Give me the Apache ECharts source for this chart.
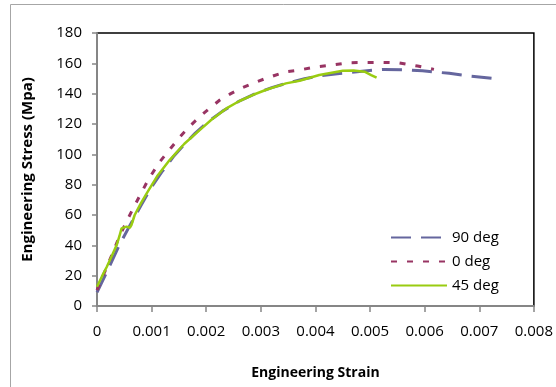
<!DOCTYPE html>
<html><head><meta charset="utf-8">
<script src="https://cdn.jsdelivr.net/npm/echarts@6/dist/echarts.min.js"></script>
<style>html,body{margin:0;padding:0;background:#fff}#c{width:556px;height:387px}</style>
</head><body><div id="c"></div>
<script>
const xTicks = [0, 0.001, 0.002, 0.003, 0.004, 0.005, 0.006, 0.007, 0.008];
const yTicks = [0, 20, 40, 60, 80, 100, 120, 140, 160, 180];
const seriesNames = ['90 deg', '0 deg', '45 deg'];

const strain90 = [0, 0.0002, 0.0004, 0.0006, 0.0008, 0.001, 0.0012, 0.0014, 0.0016, 0.0018, 0.002, 0.0023, 0.0026, 0.0029, 0.0032, 0.0035, 0.0038, 0.0041, 0.0044, 0.00462, 0.0049, 0.00526, 0.00572, 0.00596, 0.00645, 0.00678, 0.00733];
const stress90 = [9, 24, 39.5, 53, 66, 78.5, 89, 98.5, 106.5, 114, 120.5, 128.5, 135, 140, 144, 147.2, 149.8, 151.8, 153.2, 153.9, 155, 156, 155.6, 155.1, 153.4, 151.8, 149.8];

const strain0 = [0, 0.0001, 0.0002, 0.0003, 0.0004, 0.00054, 0.00065, 0.00079, 0.00095, 0.00115, 0.00135, 0.00152, 0.0017, 0.00188, 0.00205, 0.00225, 0.00245, 0.00265, 0.00285, 0.00305, 0.00325, 0.00346, 0.00371, 0.004, 0.00432, 0.00462, 0.00493, 0.0052, 0.0055, 0.00587, 0.00617];
const stress0 = [10.5, 19, 27.5, 36, 45, 55.6, 63.5, 73.2, 84, 95.1, 104, 111.6, 118.5, 124.8, 130, 135.8, 140, 143.7, 146.8, 149.5, 152, 154.5, 155.6, 157.6, 158.9, 160.4, 160.6, 160.6, 160.4, 158.2, 156];

const strain45 = [0, 0.00009, 0.00018, 0.00027, 0.00036, 0.00041, 0.00045, 0.00054, 0.0006, 0.00063, 0.00069, 0.0008, 0.00091, 0.0011, 0.00133, 0.0016, 0.00188, 0.0021, 0.00237, 0.0026, 0.00285, 0.0031, 0.00346, 0.00371, 0.00407, 0.0045, 0.0047, 0.0049, 0.00502, 0.00512];
const stress45 = [12.7, 19.5, 25.9, 33, 40.2, 46, 51.2, 52.3, 51.6, 53.4, 60, 67.5, 74.3, 85.5, 96.2, 107, 116, 123, 130.3, 135, 139.1, 142.6, 146.8, 148.5, 152.3, 155.1, 155.3, 154.5, 152.3, 150.5];

function pairs(xs, ys){ return xs.map((x,i)=>[x, ys[i]]); }
const FONT = 'Open Sans';
const chart = echarts.init(document.getElementById('c'), null, {renderer:'canvas'});
chart.setOption({
  animation: false,
  backgroundColor: '#fff',
  textStyle: {fontFamily: FONT},
  graphic: [{type:'rect', shape:{x:10.5, y:4.5, width:600, height:400}, style:{fill:'none', stroke:'#a6a6a6', lineWidth:1}, z:-10}],
  grid: {left: 97, right: 21, top: 33, bottom: 81, show: true, borderColor: '#000', borderWidth: 1.5, backgroundColor: 'transparent'},
  legend: {
    orient: 'vertical', left: 385, top: 225, itemWidth: 56, itemHeight: 14, itemGap: 9,
    data: seriesNames,
    itemStyle: {opacity: 0},
    textStyle: {fontFamily: FONT, fontSize: 15, color: '#000'}
  },
  xAxis: {
    type: 'value', min: xTicks[0], max: xTicks[xTicks.length-1], interval: 0.001,
    name: 'Engineering Strain', nameLocation: 'middle', nameGap: 60,
    nameTextStyle: {fontFamily: FONT, fontSize: 14, fontWeight: 'bold', color: '#000'},
    axisLine: {show: true, onZero: false, lineStyle: {color: '#868686', width: 2}},
    axisTick: {show: true, inside: false, length: 6, lineStyle: {color: '#868686', width: 1.5}},
    splitLine: {show: false},
    axisLabel: {margin: 18, fontSize: 15, color: '#000', fontFamily: FONT, formatter: v => (v === 0 ? '0' : v.toFixed(3))}
  },
  yAxis: {
    type: 'value', min: yTicks[0], max: yTicks[yTicks.length-1], interval: 20,
    name: 'Engineering Stress (Mpa)', nameLocation: 'middle', nameGap: 62, nameRotate: 90,
    nameTextStyle: {fontFamily: FONT, fontSize: 15, fontWeight: 'bold', color: '#000'},
    axisLine: {show: true, lineStyle: {color: '#868686', width: 2}},
    axisTick: {show: true, inside: false, length: 5, lineStyle: {color: '#868686', width: 1.5}},
    splitLine: {show: false},
    axisLabel: {margin: 15, fontSize: 15, color: '#000', fontFamily: FONT}
  },
  series: [
    {name: seriesNames[0], type: 'line', showSymbol: false, symbol: 'none', data: pairs(strain90, stress90),
     lineStyle: {color: '#65669e', width: 3, type: [20, 10]}, itemStyle: {color: '#65669e'}},
    {name: seriesNames[1], type: 'line', showSymbol: false, symbol: 'none', data: pairs(strain0, stress0),
     lineStyle: {color: '#983463', width: 3, type: [6, 10]}, itemStyle: {color: '#983463'}},
    {name: seriesNames[2], type: 'line', showSymbol: false, symbol: 'none', data: pairs(strain45, stress45),
     lineStyle: {color: '#99cc11', width: 2.5, type: 'solid'}, itemStyle: {color: '#99cc11'}}
  ]
});
</script></body></html>
